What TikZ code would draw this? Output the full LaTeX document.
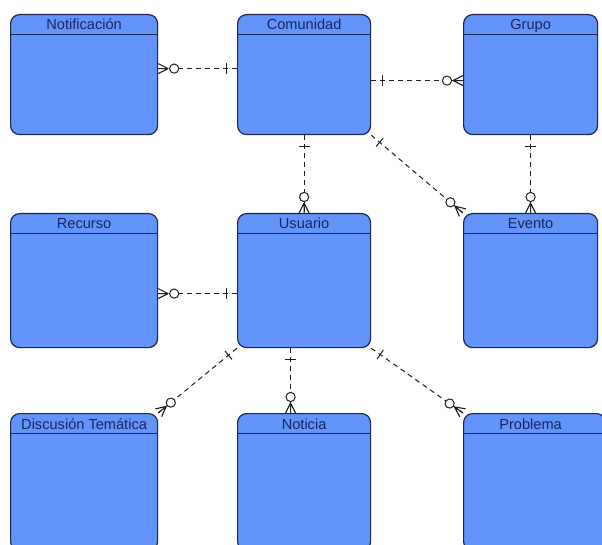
\documentclass[tikz,border=0pt]{standalone}
\usepackage{fontspec}
\setmainfont{Liberation Sans}
\usetikzlibrary{decorations.markings}
\definecolor{entfill}{RGB}{98,148,250}
\definecolor{entborder}{RGB}{28,38,80}
\definecolor{enttext}{RGB}{24,36,98}
\definecolor{relline}{RGB}{30,30,30}

\begin{document}
\begin{tikzpicture}[x=1pt, y=1pt,
		    entity/.style={
		        draw=entborder, fill=entfill, line width=1.2pt, rounded corners=9pt,
		        anchor=north west, inner sep=0pt,
		        path picture={\draw[entborder, line width=1.1pt]
		            ([yshift=-20pt]path picture bounding box.north west) --
		            ([yshift=-20pt]path picture bounding box.north east);}
			},
		    title/.style={anchor=base, text=enttext, inner sep=0pt, font=\fontsize{14.6}{16}\selectfont},
		    rel/.style={
		        draw=relline, line width=1pt, dash pattern=on 5pt off 4pt,
		        decoration={
		            markings,
		            mark=at position 11pt with {\draw[solid, relline, line width=1pt] (0,-5.5pt) -- (0,5.5pt);},
		            mark=at position 1 with {\draw[solid, relline, line width=1pt, fill=white] (-16pt,0) circle (4.6pt);
		                \draw[solid, relline, line width=1.1pt] (-10pt,0) -- (0,-5pt) (-10pt,0) -- (0,0) (-10pt,0) -- (0,5pt);}
		        },
		        postaction={decorate}
			}
		]
		\path[use as bounding box, clip] (0, 0) rectangle (602, 544);
		\node[entity, minimum width=147pt, minimum height=120pt] (Notificacion) at (10, 530) {};
		\node[entity, minimum width=133pt, minimum height=120pt] (Comunidad) at (237, 530) {};
		\node[entity, minimum width=134pt, minimum height=120pt] (Grupo) at (463, 530) {};
		\node[entity, minimum width=147pt, minimum height=134pt] (Recurso) at (10, 331) {};
		\node[entity, minimum width=133pt, minimum height=134pt] (Usuario) at (237, 331) {};
		\node[entity, minimum width=134pt, minimum height=134pt] (Evento) at (463, 331) {};
		\node[entity, minimum width=147pt, minimum height=137pt] (Discusion) at (10, 131) {};
		\node[entity, minimum width=133pt, minimum height=137pt] (Noticia) at (237, 131) {};
		\node[entity, minimum width=142pt, minimum height=137pt] (Problema) at (463, 131) {};
		\node[title] (NotificacionT) at ([yshift=-16pt]Notificacion.north) {Notificación};
		\node[title] (ComunidadT) at ([yshift=-16pt]Comunidad.north) {Comunidad};
		\node[title] (GrupoT) at ([yshift=-16pt]Grupo.north) {Grupo};
		\node[title] (RecursoT) at ([yshift=-16pt]Recurso.north) {Recurso};
		\node[title] (UsuarioT) at ([yshift=-16pt]Usuario.north) {Usuario};
		\node[title] (EventoT) at ([yshift=-16pt]Evento.north) {Evento};
		\node[title] (DiscusionT) at ([yshift=-16pt]Discusion.north) {Discusión Temática};
		\node[title] (NoticiaT) at ([yshift=-16pt]Noticia.north) {Noticia};
		\node[title] (ProblemaT) at ([yshift=-16pt, xshift=-4pt]Problema.north) {Problema};
		\draw[rel] ([yshift=6pt]Comunidad.west) -- ([yshift=6pt]Notificacion.east);
		\draw[rel] ([yshift=-6pt]Comunidad.east) -- ([yshift=-6pt]Grupo.west);
		\draw[rel] (Comunidad.south) -- (Usuario.north);
		\draw[rel] (Comunidad.south east) -- (Evento.north west);
		\draw[rel] (Grupo.south) -- (Evento.north);
		\draw[rel] ([yshift=-13pt]Usuario.west) -- ([yshift=-13pt]Recurso.east);
		\draw[rel] (Usuario.south west) -- (Discusion.north east);
		\draw[rel] ([xshift=-13.5pt]Usuario.south) -- ([xshift=-13.5pt]Noticia.north);
		\draw[rel] (Usuario.south east) -- (Problema.north west);
	\end{tikzpicture}
\end{document}
